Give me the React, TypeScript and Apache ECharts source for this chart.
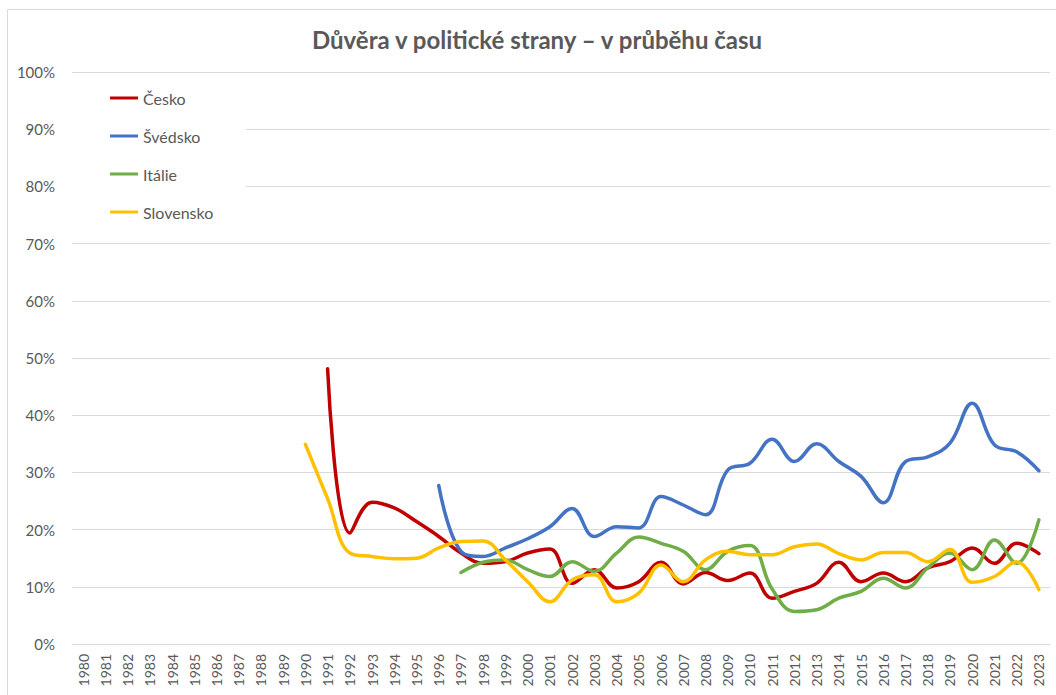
import React, { useEffect, useRef } from "react";
import * as echarts from "echarts";

const years: string[] = [];
for (let y = 1980; y <= 2023; y++) years.push(String(y));

const pad = (n: number) => new Array(n).fill(null);

// values in %
const cesko: (number | null)[] = [
  ...pad(11),
  48.1, 19.4, 24.8, 23.8, 21.4, 18.8, 15.9, 14.1, 14.4, 15.9,
  16.6, 10.6, 13.0, 9.8, 10.9, 14.3, 10.5, 12.5, 11.1, 12.4,
  8.0, 9.2, 10.6, 14.3, 10.9, 12.4, 10.9, 13.3, 14.4, 16.8,
  14.1, 17.6, 15.8,
];
const svedsko: (number | null)[] = [
  ...pad(16),
  27.7, 16.2, 15.3, 16.8, 18.4, 20.5, 23.7, 18.8, 20.5, 20.3,
  25.8, 24.3, 22.6, 30.4, 31.6, 35.8, 31.9, 35.0, 31.9, 29.3,
  24.7, 31.9, 32.7, 35.1, 42.1, 34.8, 33.6, 30.3,
];
const italie: (number | null)[] = [
  ...pad(17),
  12.5, 14.3, 14.7, 13.0, 11.8, 14.4, 12.7, 15.9, 18.7, 17.6,
  16.2, 13.0, 16.2, 17.2, 9.6, 5.7, 6.0, 8.0, 9.2, 11.5,
  9.8, 13.3, 15.9, 13.0, 18.2, 14.1, 21.7,
];
const slovensko: (number | null)[] = [
  ...pad(10),
  34.9, 25.4, 15.9, 15.3, 14.9, 15.0, 16.8, 17.9, 18.0, 14.7,
  10.9, 7.4, 11.2, 12.1, 7.4, 8.9, 13.8, 10.9, 14.7, 16.2,
  15.6, 15.6, 17.0, 17.5, 15.8, 14.7, 16.0, 16.0, 14.4, 16.5,
  10.8, 11.8, 14.4, 9.5,
];

const seriesNames = ["Česko", "Švédsko", "Itálie", "Slovensko"];
const seriesColors = ["#C00000", "#4472C4", "#70AD47", "#FFC000"];
const seriesData = [cesko, svedsko, italie, slovensko];

const FONT = "Lato, 'Liberation Sans', sans-serif";
const GREY = "#595959";

export default function App() {
  const ref = useRef<HTMLDivElement>(null);
  useEffect(() => {
    document.body.style.margin = "0";
    const chart = echarts.init(ref.current!, null, { renderer: "svg" });
    chart.setOption({
      animation: false,
      textStyle: { fontFamily: FONT },
      graphic: [
        {
          type: "rect",
          shape: { x: 7.5, y: 9.5, width: 1060, height: 700 },
          style: { fill: "none", stroke: "#d9d9d9", lineWidth: 1 },
          z: -10,
        },
      ],
      title: {
        text: "Důvěra v politické strany – v průběhu času",
        left: 532,
        textAlign: "center",
        top: 22,
        textStyle: { fontFamily: FONT, fontSize: 24, fontWeight: "bold", color: GREY },
      },
      legend: {
        orient: "vertical",
        left: 72,
        top: 80,
        padding: [10, 33, 10, 38],
        backgroundColor: "#ffffff",
        icon: "rect",
        itemWidth: 28,
        itemHeight: 3,
        itemGap: 22,
        data: seriesNames,
        textStyle: { fontFamily: FONT, fontSize: 16, color: GREY },
        z: 10,
      },
      grid: { left: 72, right: 6, top: 72, bottom: 51, containLabel: false },
      xAxis: {
        type: "category",
        data: years,
        boundaryGap: true,
        axisLine: { show: true, lineStyle: { color: "#d9d9d9" } },
        axisTick: { show: false },
        axisLabel: {
          rotate: 90,
          interval: 0,
          color: GREY,
          fontSize: 14,
          fontFamily: FONT,
          margin: 10,
        },
      },
      yAxis: {
        type: "value",
        min: 0,
        max: 100,
        interval: 10,
        axisLine: { show: false },
        axisTick: { show: false },
        splitLine: { lineStyle: { color: "#d9d9d9" } },
        axisLabel: {
          formatter: "{value}%",
          color: GREY,
          fontSize: 15,
          fontFamily: FONT,
          margin: 17,
        },
      },
      series: seriesNames.map((name, i) => ({
        name,
        type: "line",
        data: seriesData[i],
        smooth: 0.4,
        symbol: "none",
        connectNulls: false,
        lineStyle: { width: 3.5, color: seriesColors[i], cap: "round" },
        itemStyle: { color: seriesColors[i] },
      })),
    });
    return () => chart.dispose();
  }, []);
  return <div ref={ref} style={{ width: 1056, height: 695 }} />;
}
